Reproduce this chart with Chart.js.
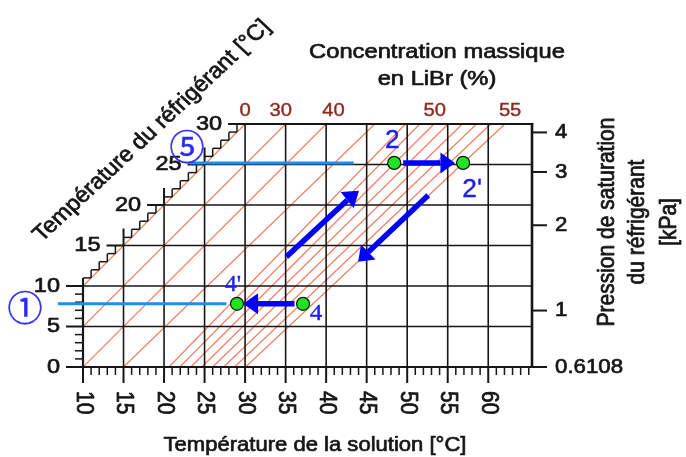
<!DOCTYPE html>
<html><head><meta charset="utf-8">
<script src="https://cdn.jsdelivr.net/npm/chart.js@4.4.1/dist/chart.umd.min.js"></script>
<style>html,body{margin:0;padding:0;background:#fff;overflow:hidden}#wrap{width:686px;height:457px}</style>
</head><body><div id="wrap"><canvas id="c" width="686" height="457"></canvas></div>
<script>
// ---------------- data ----------------
const solutionTempTicks = [10, 15, 20, 25, 30, 35, 40, 45, 50, 55, 60];   // °C, bottom axis
const refrigTempTicks   = [0, 5, 10, 15, 20, 25, 30];                      // °C, left / diagonal axis
const pressureLabels    = ['4', '3', '2', '1', '0.6108'];                  // kPa, right axis
const pressureAtTemp    = [28.96, 24.08, 17.50, 6.97, 0];                  // saturation temperature of each pressure
const concLabels        = ['0', '30', '40', '50', '55'];                   // % LiBr, top
const concAtTopX        = [30, 34.4, 40.9, 53.4, 62.7];

const vGridX = [15, 20, 25, 30, 35, 40, 45, 50, 55, 60];
const hGridY = [5, 10, 15, 20, 25];

const pointNames = ["4'", '4', '2', "2'"];
const pointX     = [29.0, 37.15, 48.4, 56.9];
const pointY     = [7.8, 7.8, 25.2, 25.2];

const blueLineNames = ['\u2460', '\u2464'];
const blueLineFromX = [6.9, 23.2];
const blueLineToX   = [27.7, 43.4];
const blueLineY     = [7.8, 25.2];

const arrowTailX = [36.1, 49.5, 35.1, 52.6];
const arrowTailY = [7.8, 25.2, 13.6, 21.2];
const arrowBaseX = [31.6, 54.1, 42.6, 45.2];
const arrowBaseY = [7.8, 25.2, 20.6, 14.2];
const arrowTipX  = [29.75, 55.9, 44.05, 43.95];
const arrowTipY  = [7.8, 25.2, 21.75, 13.0];

const hatchFromX = [10, 10, 10, 15, 20.6, 21.95, 23.3, 24.65, 26.0, 27.35, 28.7, 30.05];
const hatchFromY = [10, 5, 0, 0, 0, 0, 0, 0, 0, 0, 0, 0];
const hatchToX   = [30, 35, 40, 46, 49.8, 51.55, 53.3, 55.05, 56.8, 58.55, 60.3, 62.05];
const hatchToY   = [30, 30, 30, 30, 30, 30, 30, 30, 30, 30, 30, 30];

// ---------------- styles ----------------
const SANS = "'Liberation Sans', Arial, sans-serif";
const INK = '#161616';
const HATCH_COLOR = 'rgb(241,122,92)';

const datasets = [];
datasets.push({
  label: 'points', data: pointX.map((x, i) => ({x, y: pointY[i]})),
  showLine: false, pointRadius: 6.5, pointBackgroundColor: '#1ee61e',
  pointBorderColor: '#111', pointBorderWidth: 1.2
});
const ARROW_FIRST = datasets.length;
arrowTailX.forEach((x, i) => datasets.push({
  label: 'arrow' + i, data: [{x, y: arrowTailY[i]}, {x: arrowBaseX[i], y: arrowBaseY[i]}],
  showLine: true, borderColor: '#0000ff', borderWidth: 5.5, pointRadius: 0, borderCapStyle: 'butt'
}));
blueLineY.forEach((y, i) => datasets.push({
  label: blueLineNames[i], data: [{x: blueLineFromX[i], y}, {x: blueLineToX[i], y}],
  showLine: true, borderColor: '#1b8ff5', borderWidth: 3, pointRadius: 0, clip: false
}));
const HATCH_FIRST = datasets.length;
hatchFromX.forEach((x, i) => datasets.push({
  label: 'hatch' + i, data: [{x, y: hatchFromY[i]}, {x: hatchToX[i], y: hatchToY[i]}],
  showLine: true, borderColor: HATCH_COLOR, borderWidth: 1.2, pointRadius: 0
}));

function txt(ctx, s, x, y, o) {
  ctx.save();
  ctx.translate(x, y);
  ctx.scale(o.sx || 1, 1);
  if (o.rot) ctx.rotate(o.rot);
  ctx.font = o.font; ctx.fillStyle = o.color || INK;
  ctx.textAlign = o.align || 'center'; ctx.textBaseline = o.baseline || 'middle';
  ctx.fillText(s, 0, 0);
  if (o.weight) { ctx.lineWidth = o.weight; ctx.strokeStyle = o.color || INK; ctx.lineJoin = 'round'; ctx.strokeText(s, 0, 0); }
  ctx.restore();
}

function drawFrame(chart) {
  const ctx = chart.ctx, xs = chart.scales.x, ys = chart.scales.y;
  const X = v => xs.getPixelForValue(v), Y = v => ys.getPixelForValue(v);
  const xMin = xs.min, xMax = xs.max, yMax = ys.max;
  const seg = (x1, y1, x2, y2, w) => {
    ctx.beginPath(); ctx.moveTo(x1, y1); ctx.lineTo(x2, y2);
    ctx.lineWidth = w; ctx.strokeStyle = INK; ctx.stroke();
  };
  ctx.save(); ctx.lineCap = 'butt';
  vGridX.forEach(v => seg(X(v), Y(0), X(v), Y(Math.min(v, yMax)), 1.6));
  hGridY.forEach(v => seg(X(Math.max(xMin, v)), Y(v), X(xMax), Y(v), 1.6));
  // borders
  seg(X(xMin) - 1, Y(0), X(xMax) + 1.3, Y(0), 2.2);
  seg(X(xMax), Y(0) + 1, X(xMax), Y(yMax) - 1.1, 2.6);
  seg(X(yMax), Y(yMax), X(xMax) + 1.3, Y(yMax), 2.2);
  seg(X(xMin), Y(0) + 1, X(xMin), Y(xMin), 2.2);
  // bottom ticks
  for (let v = xMin; v <= Math.floor(xMax); v++) {
    const major = solutionTempTicks.includes(v);
    seg(X(v), Y(0), X(v), Y(0) + (major ? 16 : 8), major ? 2 : 1.5);
  }
  // left ticks
  for (let v = 0; v <= xMin; v++) {
    const major = refrigTempTicks.includes(v);
    seg(X(xMin), Y(v), X(xMin) - (major ? 17 : 8), Y(v), major ? 2 : 1.5);
  }
  // staircase ticks along the pure-water diagonal
  for (let k = xMin; k <= yMax; k++) {
    const major = refrigTempTicks.includes(k);
    seg(X(k), Y(k), X(k) - (major ? 17 : 8), Y(k), major ? 2 : 1.5);
    if (k < yMax) seg(X(k), Y(k), X(k), Y(k) - (major && k > xMin ? 17 : 8), major ? 2 : 1.5);
  }
  // right ticks
  pressureAtTemp.forEach(t => seg(X(xMax), Y(t), X(xMax) + 15, Y(t), 2));
  ctx.restore();
}

function drawHead(chart, i) {
  const ctx = chart.ctx, xs = chart.scales.x, ys = chart.scales.y;
  const bx = xs.getPixelForValue(arrowBaseX[i]), by = ys.getPixelForValue(arrowBaseY[i]);
  const tx = xs.getPixelForValue(arrowTipX[i]), ty = ys.getPixelForValue(arrowTipY[i]);
  const L = Math.hypot(tx - bx, ty - by), nx = -(ty - by) / L, ny = (tx - bx) / L, hw = 10.5;
  ctx.save();
  ctx.beginPath(); ctx.moveTo(tx, ty);
  ctx.lineTo(bx + nx * hw, by + ny * hw); ctx.lineTo(bx - nx * hw, by - ny * hw);
  ctx.closePath(); ctx.fillStyle = '#0000ff'; ctx.fill();
  ctx.restore();
}

function drawTexts(chart) {
  const ctx = chart.ctx, xs = chart.scales.x, ys = chart.scales.y, ca = chart.chartArea;
  const X = v => xs.getPixelForValue(v), Y = v => ys.getPixelForValue(v);
  const xMin = xs.min, xMax = xs.max, yMax = ys.max;
  const tickFont = '21px ' + SANS;
  const W = 0.7;
  solutionTempTicks.forEach(v => txt(ctx, String(v), X(v), Y(0) + 24,
    {font: tickFont, align: 'left', rot: Math.PI / 2, sx: 1.12, weight: W}));
  refrigTempTicks.forEach(v => txt(ctx, String(v), X(Math.max(v, xMin)) - 23, Y(v),
    {font: tickFont, align: 'right', sx: 1.12, weight: W}));
  pressureLabels.forEach((s, i) => txt(ctx, s, X(xMax) + 23, Y(pressureAtTemp[i]),
    {font: tickFont, align: 'left', sx: 1.06, weight: W}));
  concLabels.forEach((s, i) => txt(ctx, s, X(concAtTopX[i]), Y(yMax) - 13,
    {font: '18px ' + SANS, color: '#8e2a1e', sx: 1.12, weight: 0.4}));

  // axis titles
  const tFont = '21px ' + SANS;
  txt(ctx, 'Concentration massique', 437, 58, {font: tFont, baseline: 'alphabetic', sx: 1.13, weight: W});
  txt(ctx, 'en LiBr (%)', 437, 85, {font: tFont, baseline: 'alphabetic', sx: 1.13, weight: W});
  txt(ctx, 'Température de la solution [°C]', 315, 451, {font: tFont, baseline: 'alphabetic', sx: 1.05, weight: W});
  txt(ctx, 'Température du réfrigérant [°C]', 152, 131, {font: '22px ' + SANS, rot: -Math.PI / 4, sx: 1.07, weight: W});
  const rt = ['Pression de saturation', 'du réfrigérant', '[kPa]'];
  [ca.right + 76, ca.right + 106, ca.right + 138].forEach((x, i) =>
    txt(ctx, rt[i], x, 222, {font: '21px ' + SANS, rot: -Math.PI / 2, sx: 1.1, weight: W}));

  // point labels
  const lblOff = [[-4, -19], [13, 10], [-2, -22], [9, 27]];
  const lblFont = ["23px 'Liberation Serif', serif", "24px 'Liberation Serif', serif", '25px ' + SANS, '25px ' + SANS];
  pointNames.forEach((s, i) => txt(ctx, s, X(pointX[i]) + lblOff[i][0], Y(pointY[i]) + lblOff[i][1],
    {font: lblFont[i], color: '#1f1ff2', sx: 1.05, weight: 0.4}));
  // circled state numbers at the start of the blue lines
  const circOff = [[-33, 4], [-3, -16]];
  blueLineNames.forEach((s, i) => txt(ctx, s, X(blueLineFromX[i]) + circOff[i][0], Y(blueLineY[i]) + circOff[i][1],
    {font: "35px 'Noto Sans CJK JP', 'DejaVu Sans', sans-serif", color: '#2b2bff', weight: 0.5}));
}

const duhring = {
  id: 'duhring',
  afterDatasetDraw(chart, args) {
    if (args.index === HATCH_FIRST) drawFrame(chart);
    if (args.index >= ARROW_FIRST && args.index < ARROW_FIRST + arrowTipX.length) drawHead(chart, args.index - ARROW_FIRST);
  },
  afterDraw(chart) { drawTexts(chart); }
};

const chart = new Chart(document.getElementById('c'), {
  type: 'scatter',
  data: {datasets},
  options: {
    responsive: false, animation: false, devicePixelRatio: 1, events: [],
    layout: {padding: {left: 83, right: 154, top: 124, bottom: 90}},
    scales: {
      x: {type: 'linear', min: 10, max: 65.4, display: false},
      y: {type: 'linear', min: 0, max: 30, display: false}
    },
    plugins: {legend: {display: false}, tooltip: {enabled: false}, title: {display: false}}
  },
  plugins: [duhring]
});
</script></body></html>
